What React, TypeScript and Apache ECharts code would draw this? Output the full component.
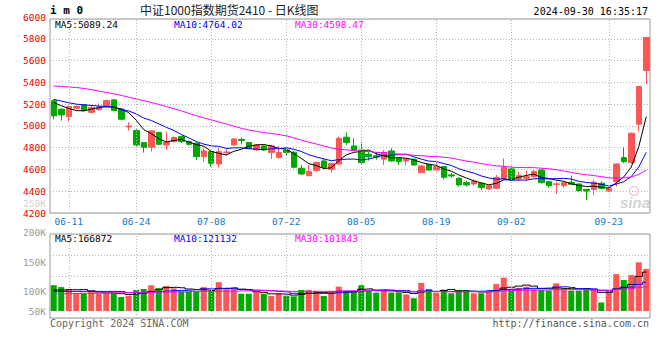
import React, { useEffect, useRef } from 'react';
import * as echarts from 'echarts';

// ---------- data ----------
const DATES = [
  '06-06', '06-07', '06-11', '06-12', '06-13', '06-14', '06-17', '06-18', '06-19', '06-20',
  '06-21', '06-24', '06-25', '06-26', '06-27', '06-28', '07-01', '07-02', '07-03', '07-04',
  '07-05', '07-08', '07-09', '07-10', '07-11', '07-12', '07-15', '07-16', '07-17', '07-18',
  '07-19', '07-22', '07-23', '07-24', '07-25', '07-26', '07-29', '07-30', '07-31', '08-01',
  '08-02', '08-05', '08-06', '08-07', '08-08', '08-09', '08-12', '08-13', '08-14', '08-15',
  '08-16', '08-19', '08-20', '08-21', '08-22', '08-23', '08-26', '08-27', '08-28', '08-29',
  '08-30', '09-02', '09-03', '09-04', '09-05', '09-06', '09-09', '09-10', '09-11', '09-12',
  '09-13', '09-18', '09-19', '09-20', '09-23', '09-24', '09-25', '09-26', '09-27', '09-30',
];

// [open, close, low, high]
const CANDLES = [
  [5230, 5092, 5061, 5245], [5153, 5101, 5049, 5162], [5086, 5178, 5040, 5185], [5162, 5178, 5150, 5190],
  [5193, 5141, 5133, 5200], [5125, 5170, 5110, 5190], [5150, 5172, 5140, 5205], [5172, 5233, 5165, 5240],
  [5239, 5141, 5135, 5245], [5153, 5061, 5050, 5160], [4990, 4998, 4957, 5034], [4957, 4825, 4804, 4969],
  [4847, 4804, 4755, 4852], [4804, 4954, 4764, 4960], [4939, 4831, 4825, 4945], [4825, 4847, 4779, 4948],
  [4856, 4893, 4848, 4905], [4902, 4856, 4843, 4910], [4856, 4831, 4820, 4865], [4840, 4718, 4687, 4850],
  [4718, 4770, 4672, 4795], [4764, 4657, 4626, 4770], [4651, 4764, 4617, 4795], [4755, 4760, 4727, 4785],
  [4825, 4880, 4818, 4890], [4876, 4866, 4831, 4893], [4847, 4795, 4788, 4852], [4779, 4825, 4770, 4835],
  [4815, 4779, 4772, 4822], [4755, 4816, 4697, 4825], [4709, 4755, 4700, 4816], [4779, 4755, 4730, 4790],
  [4758, 4620, 4610, 4770], [4611, 4559, 4549, 4641], [4543, 4580, 4534, 4641], [4589, 4663, 4580, 4672],
  [4678, 4620, 4612, 4703], [4601, 4653, 4571, 4660], [4650, 4886, 4645, 4902], [4896, 4847, 4825, 4939],
  [4816, 4779, 4770, 4886], [4779, 4663, 4641, 4850], [4739, 4718, 4681, 4764], [4725, 4715, 4690, 4760],
  [4694, 4755, 4641, 4779], [4770, 4678, 4670, 4795], [4703, 4672, 4641, 4710], [4678, 4697, 4636, 4703],
  [4694, 4641, 4635, 4700], [4571, 4632, 4565, 4645], [4647, 4595, 4589, 4652], [4595, 4626, 4580, 4681],
  [4626, 4528, 4510, 4632], [4550, 4540, 4525, 4568], [4519, 4458, 4442, 4525], [4479, 4458, 4443, 4495],
  [4467, 4494, 4450, 4508], [4473, 4433, 4411, 4478], [4421, 4451, 4411, 4455], [4427, 4525, 4420, 4549],
  [4513, 4620, 4510, 4700], [4605, 4504, 4498, 4632], [4513, 4543, 4494, 4580], [4519, 4534, 4494, 4586],
  [4534, 4580, 4524, 4595], [4595, 4479, 4470, 4600], [4488, 4451, 4433, 4494], [4463, 4467, 4375, 4488],
  [4451, 4479, 4433, 4485], [4482, 4464, 4458, 4543], [4467, 4405, 4396, 4470], [4417, 4402, 4319, 4420],
  [4417, 4482, 4366, 4504], [4473, 4427, 4420, 4488], [4402, 4427, 4396, 4440], [4488, 4650, 4442, 4655],
  [4709, 4672, 4657, 4801], [4663, 4932, 4650, 4940], [5015, 5362, 4948, 5365], [5509, 5812, 5383, 5815],
];

// volume in thousands of lots
const VOLUMES_K = [
  109, 101, 93, 75, 75, 83, 75, 75, 75, 59,
  65, 89, 93, 109, 97, 106, 96, 83, 83, 83,
  101, 83, 122, 92, 92, 73, 73, 81, 73, 63,
  73, 65, 62, 89, 89, 84, 64, 80, 103, 84,
  84, 109, 88, 78, 88, 78, 79, 70, 54, 119,
  93, 78, 90, 75, 89, 89, 75, 75, 81, 114,
  141, 92, 98, 103, 92, 89, 86, 117, 92, 86,
  86, 93, 93, 36, 86, 156, 131, 152, 206, 178,
];

// moving-average values before a full window exists
const PRICE_MA5_LEAD = [5215, 5185, 5160, 5140];
const PRICE_MA10_LEAD = [5243, 5228, 5212, 5200, 5193, 5188, 5182, 5178, 5172];
const PRICE_MA30_LEAD = [
  5366, 5362, 5358, 5352, 5344, 5333, 5320, 5307, 5295, 5280,
  5264, 5247, 5231, 5215, 5197, 5178, 5158, 5138, 5115, 5093,
  5074, 5055, 5036, 5017, 4998, 4978, 4962, 4950, 4938,
];
const VOL_MA5_LEAD = [89, 89, 90, 90];
const VOL_MA10_LEAD = [83, 83, 83, 83, 83, 83, 83, 83, 83];
const VOL_MA30_LEAD = [
  73, 73, 74, 74, 75, 75, 76, 76, 77, 77,
  78, 78, 79, 79, 80, 80, 81, 81, 82, 82,
  83, 83, 84, 84, 84, 85, 85, 85, 86,
];

const LABEL_DATES = ['06-11', '06-24', '07-08', '07-22', '08-05', '08-19', '09-02', '09-23'];

const PRICE_AXIS = { min: 4200, max: 6000, step: 200 };
const VOL_LABEL_AXIS = { min: 50, max: 250, step: 50 };

const TITLE = '中证1000指数期货2410 - 日K线图';
const CODE = 'i m 0';
const TIME = '2024-09-30 16:35:17';
const PRICE_MA_TEXT = ['MA5:5089.24', 'MA10:4764.02', 'MA30:4598.47'];
const VOL_MA_TEXT = ['MA5:166872', 'MA10:121132', 'MA30:101843'];
const FOOT_LEFT = 'Copyright 2024 SINA.COM';
const FOOT_RIGHT = 'http://finance.sina.com.cn';

// ---------- styling / layout ----------
const UP = '#ff5555';
const DOWN = '#00a800';
const MA_COLORS = ['#000000', '#0000ff', '#ff00ff'];
const GRID_LINE = { color: '#b4b4b4', type: [1, 2] as any, width: 1 };
const MONO = 'DejaVu Sans Mono';

const W = 660, H = 360;
const LEFT = 50, RIGHT = 10;
const MAIN_TOP = 19, MAIN_BOTTOM = 213, MAIN_LABEL_TOP = 17;
const VOL_TOP = 234, VOL_BOTTOM = 318, VOL_BASE_Y = 311, VOL_K_PER_PX = 4.23;
const VOL_LABEL_TOP = 203, VOL_LABEL_BOTTOM = 321;

function movingAvg(values: number[], n: number, lead: number[], digits: number) {
  return values.map((_, i) => {
    if (i < n - 1) return lead[i];
    let s = 0;
    for (let k = i - n + 1; k <= i; k++) s += values[k];
    return +(s / n).toFixed(digits);
  });
}

export default function App() {
  const ref = useRef<HTMLDivElement>(null);

  useEffect(() => {
    if (!ref.current) return;
    const chart = echarts.init(ref.current, undefined, { renderer: 'svg' });

    const closes = CANDLES.map((c) => c[1]);
    const pMA = [
      movingAvg(closes, 5, PRICE_MA5_LEAD, 2),
      movingAvg(closes, 10, PRICE_MA10_LEAD, 2),
      movingAvg(closes, 30, PRICE_MA30_LEAD, 2),
    ];
    const vMA = [
      movingAvg(VOLUMES_K, 5, VOL_MA5_LEAD, 2),
      movingAvg(VOLUMES_K, 10, VOL_MA10_LEAD, 2),
      movingAvg(VOLUMES_K, 30, VOL_MA30_LEAD, 2),
    ];

    const mainMax =
      PRICE_AXIS.min +
      ((MAIN_BOTTOM - MAIN_TOP) * (PRICE_AXIS.max - PRICE_AXIS.min)) / (MAIN_BOTTOM - MAIN_LABEL_TOP);
    const volMin = -(VOL_BOTTOM - VOL_BASE_Y) * VOL_K_PER_PX;
    const volMax = (VOL_BASE_Y - VOL_TOP) * VOL_K_PER_PX;

    const vLines = {
      symbol: ['none', 'none'],
      silent: true,
      label: { show: false },
      lineStyle: GRID_LINE,
      emphasis: { disabled: true },
      data: LABEL_DATES.map((d) => ({ xAxis: d })),
    };

    const gridBase = { left: LEFT, right: RIGHT, outerBoundsMode: 'none' } as any;

    const txt = (text: string, x: number, y: number, fill: string, font: string, align = 'left') => ({
      type: 'text',
      x,
      y,
      silent: true,
      style: { text, fill, font, textAlign: align, verticalAlign: 'middle' },
    });

    const maHeaderX = [55, 174, 295];

    chart.setOption({
      animation: false,
      backgroundColor: '#ffffff',
      grid: [
        { ...gridBase, top: MAIN_TOP, bottom: H - MAIN_BOTTOM, show: true, borderColor: '#999', borderWidth: 1 },
        { ...gridBase, top: VOL_TOP, bottom: H - VOL_BOTTOM, show: true, borderColor: '#999', borderWidth: 1 },
        { ...gridBase, top: MAIN_LABEL_TOP, bottom: H - MAIN_BOTTOM, show: false },
        { ...gridBase, top: VOL_LABEL_TOP, bottom: H - VOL_LABEL_BOTTOM, show: false },
      ],
      xAxis: [
        {
          type: 'category',
          gridIndex: 0,
          data: DATES,
          boundaryGap: true,
          axisLine: { show: false },
          axisTick: { show: false },
          splitLine: { show: false },
          axisLabel: {
            interval: (_i: number, v: string) => LABEL_DATES.includes(v),
            color: '#0a7ad2',
            fontFamily: MONO,
            fontSize: 9.5,
            margin: 3,
          },
        },
        {
          type: 'category',
          gridIndex: 1,
          data: DATES,
          boundaryGap: true,
          axisLine: { show: false },
          axisTick: { show: false },
          axisLabel: { show: false },
          splitLine: { show: false },
        },
        { type: 'value', gridIndex: 2, show: false, min: 0, max: 1 },
        { type: 'value', gridIndex: 3, show: false, min: 0, max: 1 },
      ],
      yAxis: [
        {
          type: 'value',
          gridIndex: 0,
          min: PRICE_AXIS.min,
          max: mainMax,
          interval: PRICE_AXIS.step,
          axisLine: { show: false },
          axisTick: { show: false },
          axisLabel: { show: false },
          splitLine: { show: true, lineStyle: GRID_LINE },
        },
        {
          type: 'value',
          gridIndex: 1,
          min: volMin,
          max: volMax,
          interval: (volMax - volMin) / 4,
          axisLine: { show: false },
          axisTick: { show: false },
          axisLabel: { show: false },
          splitLine: { show: true, lineStyle: GRID_LINE },
        },
        {
          type: 'value',
          gridIndex: 2,
          min: PRICE_AXIS.min,
          max: PRICE_AXIS.max,
          interval: PRICE_AXIS.step,
          axisLine: { show: false },
          axisTick: { show: false },
          splitLine: { show: false },
          axisLabel: {
            color: '#ee0000',
            fontFamily: MONO,
            fontSize: 9.5,
            margin: 4,
            formatter: (v: number) => String(v),
          },
        },
        {
          type: 'value',
          gridIndex: 3,
          min: VOL_LABEL_AXIS.min,
          max: VOL_LABEL_AXIS.max,
          interval: VOL_LABEL_AXIS.step,
          axisLine: { show: false },
          axisTick: { show: false },
          splitLine: { show: false },
          axisLabel: {
            fontFamily: MONO,
            fontSize: 9.5,
            margin: 4,
            color: '#999',
            formatter: (v: number) =>
              v === VOL_LABEL_AXIS.min ? `{lo|${v}K}` : v === VOL_LABEL_AXIS.max ? `{hi|${v}K}` : `${v}K`,
            rich: {
              lo: { padding: [0, 0, 20, 0], color: '#999', fontFamily: MONO, fontSize: 9.5 },
              hi: { color: '#cfcfcf', fontFamily: MONO, fontSize: 9.5 },
            },
          },
        },
      ],
      series: [
        {
          type: 'candlestick',
          xAxisIndex: 0,
          yAxisIndex: 0,
          data: CANDLES,
          barWidth: 6,
          itemStyle: { color: UP, color0: DOWN, borderColor: UP, borderColor0: DOWN, borderWidth: 1 },
          markLine: vLines,
          z: 2,
        },
        ...pMA.map((d, k) => ({
          type: 'line',
          xAxisIndex: 0,
          yAxisIndex: 0,
          data: d,
          showSymbol: false,
          symbol: 'none',
          lineStyle: { color: MA_COLORS[k], width: 1 },
          itemStyle: { color: MA_COLORS[k] },
          z: 3,
        })),
        {
          type: 'bar',
          xAxisIndex: 1,
          yAxisIndex: 1,
          barWidth: 6,
          data: VOLUMES_K.map((v, i) => ({
            value: v,
            itemStyle: { color: CANDLES[i][1] >= CANDLES[i][0] ? UP : DOWN },
          })),
          markLine: vLines,
          z: 2,
        },
        ...vMA.map((d, k) => ({
          type: 'line',
          xAxisIndex: 1,
          yAxisIndex: 1,
          data: d,
          step: 'middle',
          showSymbol: false,
          symbol: 'none',
          lineStyle: { color: MA_COLORS[k], width: 1 },
          itemStyle: { color: MA_COLORS[k] },
          z: 3,
        })),
      ],
      graphic: [
        txt(CODE, 50, 10, '#000', `bold 11px "${MONO}"`),
        txt(TITLE, 140, 9.5, '#222', '12px "Noto Sans CJK SC"'),
        txt(TIME, 648, 11, '#000', `10px "${MONO}"`, 'right'),
        ...PRICE_MA_TEXT.map((t, k) => txt(t, maHeaderX[k], 24.5, MA_COLORS[k], `9.5px "${MONO}"`)),
        ...VOL_MA_TEXT.map((t, k) => txt(t, maHeaderX[k], 238.5, MA_COLORS[k], `9.5px "${MONO}"`)),
        txt(FOOT_LEFT, 50, 323, '#666', `10px "${MONO}"`),
        txt(FOOT_RIGHT, 649, 323, '#555', `10px "${MONO}"`, 'right'),
        {
          type: 'circle',
          silent: true,
          shape: { cx: 634, cy: 191, r: 4.5 },
          style: { fill: 'none', stroke: 'rgba(220,110,110,0.35)', lineWidth: 1.5 },
        },
        txt('sina', 620, 202, 'rgba(150,150,150,0.45)', 'italic bold 15px "Liberation Sans"'),
      ],
    });

    return () => chart.dispose();
  }, []);

  return (
    <div
      ref={ref}
      style={{ position: 'fixed', left: 0, top: 0, width: W, height: H, background: '#fff' }}
    />
  );
}
